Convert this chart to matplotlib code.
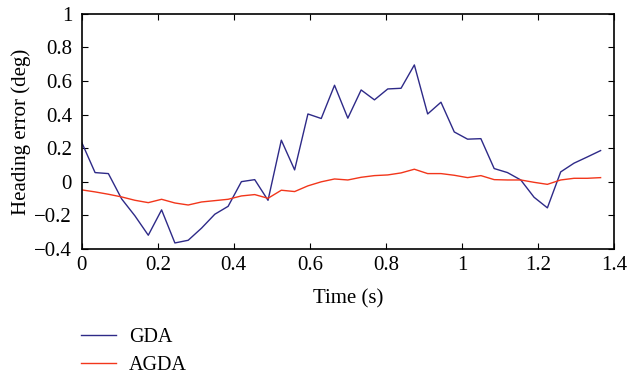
import numpy as np
import matplotlib.pyplot as plt

plt.rcParams['font.family'] = ['Liberation Serif', 'DejaVu Serif']
plt.rcParams['axes.unicode_minus'] = True

# sample times (s)
time_s = [0.0, 0.035, 0.07, 0.105, 0.14, 0.175, 0.21, 0.245, 0.28, 0.315,
          0.35, 0.385, 0.42, 0.455, 0.49, 0.525, 0.56, 0.595, 0.63, 0.665,
          0.70, 0.735, 0.77, 0.805, 0.84, 0.875, 0.91, 0.945, 0.98, 1.015,
          1.05, 1.085, 1.12, 1.155, 1.19, 1.225, 1.26, 1.295, 1.33, 1.365]

gda = [0.234, 0.055, 0.049, -0.102, -0.203, -0.318, -0.167, -0.364, -0.348, -0.276,
       -0.193, -0.146, 0.001, 0.013, -0.11, 0.248, 0.071, 0.404, 0.377, 0.575,
       0.379, 0.547, 0.488, 0.553, 0.557, 0.696, 0.404, 0.474, 0.297, 0.254,
       0.257, 0.079, 0.055, 0.011, -0.092, -0.155, 0.059, 0.111, 0.148, 0.186]

agda = [-0.048, -0.06, -0.074, -0.09, -0.11, -0.124, -0.104, -0.126, -0.138, -0.12,
        -0.112, -0.104, -0.084, -0.076, -0.098, -0.05, -0.058, -0.024, 0.0, 0.017,
        0.011, 0.027, 0.037, 0.041, 0.053, 0.075, 0.049, 0.049, 0.039, 0.025,
        0.037, 0.013, 0.011, 0.011, -0.003, -0.015, 0.011, 0.021, 0.021, 0.025]

xticks = [0, 0.2, 0.4, 0.6, 0.8, 1, 1.2, 1.4]
xtick_labels = ['0', '0.2', '0.4', '0.6', '0.8', '1', '1.2', '1.4']
yticks = [-0.4, -0.2, 0, 0.2, 0.4, 0.6, 0.8, 1]
ytick_labels = ['\u22120.4', '\u22120.2', '0', '0.2', '0.4', '0.6', '0.8', '1']

fig = plt.figure(figsize=(6.29, 3.75), dpi=100)
ax = fig.add_axes([0.130, 0.336, 0.846, 0.627])

ax.plot(time_s, gda, color='#2e2a88', lw=1.0, label='GDA')
ax.plot(time_s, agda, color='#f2361b', lw=1.0, label='AGDA')

ax.set_xlim(0, 1.4)
ax.set_ylim(-0.4, 1)
ax.set_xticks(xticks)
ax.set_xticklabels(xtick_labels)
ax.set_yticks(yticks)
ax.set_yticklabels(ytick_labels)
ax.tick_params(direction='in', top=True, right=True, labelsize=15,
               length=4, width=0.8)
ax.tick_params(axis='x', pad=5)
ax.tick_params(axis='y', pad=7)
for sp in ax.spines.values():
    sp.set_linewidth(1.2)

ax.set_xlabel('Time (s)', fontsize=15, labelpad=10)
ax.set_ylabel('Heading error (deg)', fontsize=15, labelpad=2)

ax.legend(loc='upper left', bbox_to_anchor=(0.128, 0.125), bbox_transform=fig.transFigure,
          frameon=False, fontsize=14.5, handlelength=1.75, handletextpad=0.65,
          labelspacing=0.42, borderaxespad=0, borderpad=0)

fig.savefig('out.png', dpi=100)
